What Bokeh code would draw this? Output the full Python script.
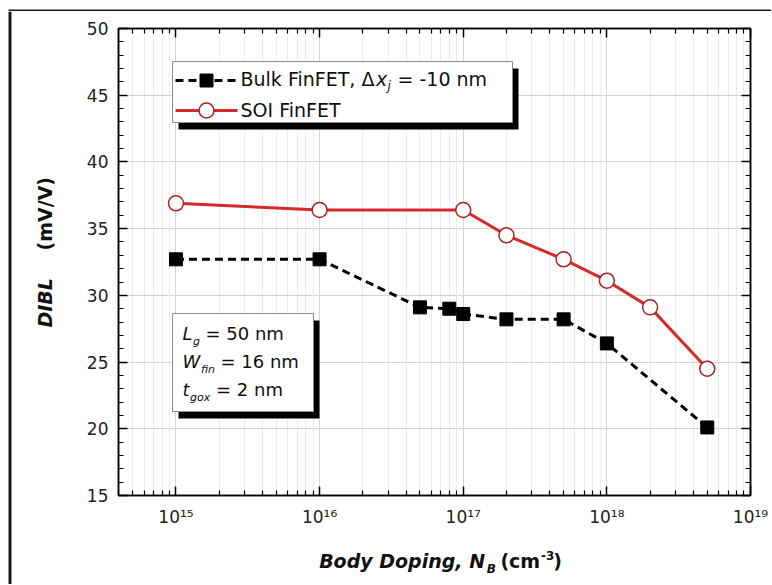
import json
import math
from bokeh.plotting import figure
from bokeh.layouts import column, row
from bokeh.models import (Range1d, FixedTicker, LinearAxis, LogAxis, Label,
                          SingleIntervalTicker, CustomJSTickFormatter)
from bokeh.embed import file_html
from bokeh.resources import INLINE

# ---------------- data ----------------
doping_bulk = [1e15, 1e16, 5e16, 8e16, 1e17, 2e17, 5e17, 1e18, 5e18]
dibl_bulk = [32.7, 32.7, 29.1, 29.0, 28.6, 28.2, 28.2, 26.4, 20.1]

doping_soi = [1e15, 1e16, 1e17, 2e17, 5e17, 1e18, 2e18, 5e18]
dibl_soi = [36.9, 36.4, 36.4, 34.5, 32.7, 31.1, 29.1, 24.5]

x_tick_exponents = [15, 16, 17, 18, 19]
x_tick_labels = ["10\u00b9\u2075", "10\u00b9\u2076", "10\u00b9\u2077", "10\u00b9\u2078", "10\u00b9\u2079"]
x_minor_mantissas = [2, 3, 4, 5, 6, 7, 8, 9]
y_tick_interval = 5

legend_names = ["Bulk FinFET, \u0394", "SOI FinFET"]

# ---------------- layout (page pixels) ----------------
FL, FT, FR, FB = 118, 28, 750, 495  # plot frame edges on the page
XLOG0, XLOG1 = 14.6, 19.0
Y0, Y1 = 15, 50
FONT = "DejaVu Sans"
DARK = "#1a1a1a"
SHIFT = 0.38  # em correction for label baseline placement

PAGE_W, PAGE_H = 771, 584
M_LEFT, M_TOP = 71, 11
M_W, M_H = 700, 519


def X(px):
    return 10 ** (XLOG0 + (px - FL) * (XLOG1 - XLOG0) / (FR - FL))


def Y(py):
    return Y1 - (py - FT) * (Y1 - Y0) / (FB - FT)


def put(fig, fx, fy, px, py, s, size, style="normal", angle=0.0,
        color="#111111", align="left"):
    if angle == 0:
        py -= SHIFT * size
    else:
        px -= SHIFT * size
    fig.add_layout(Label(x=fx(px), y=fy(py), text=s, text_font=FONT,
                         text_font_size=f"{size}px", text_font_style=style,
                         text_color=color, text_align=align,
                         text_baseline="alphabetic", angle=angle))


def blank_fig(w, h, x0, x1, y0, y1, bg="white"):
    f = figure(width=w, height=h, x_range=Range1d(x0, x1), y_range=Range1d(y0, y1),
               output_backend="svg", toolbar_location=None,
               x_axis_location=None, y_axis_location=None,
               min_border=0, min_border_left=0, min_border_right=0,
               min_border_top=0, min_border_bottom=0,
               background_fill_color=bg, border_fill_color=bg,
               outline_line_color=None)
    f.grid.visible = False
    return f


# ---------------- main plot ----------------
p = figure(width=M_W, height=M_H, x_axis_type="log",
           x_range=Range1d(10 ** XLOG0, 10 ** XLOG1), y_range=Range1d(Y0, Y1),
           output_backend="svg", toolbar_location=None,
           min_border_left=FL - M_LEFT, min_border_right=M_LEFT + M_W - FR,
           min_border_top=FT - M_TOP, min_border_bottom=M_TOP + M_H - FB,
           background_fill_color="white", border_fill_color="white",
           outline_line_color="black", outline_line_width=1.5)

xticker = FixedTicker(
    ticks=[10.0 ** e for e in x_tick_exponents],
    minor_ticks=[m * 10.0 ** e for e in range(14, 19) for m in x_minor_mantissas
                 if 10 ** XLOG0 < m * 10.0 ** e < 10 ** XLOG1])
yticker = SingleIntervalTicker(interval=y_tick_interval, num_minor_ticks=5)
blank = CustomJSTickFormatter(code="return ''")
label_map = json.dumps({str(e): s for e, s in zip(x_tick_exponents, x_tick_labels)})
xfmt = CustomJSTickFormatter(
    code=f"const m = {label_map}; const e = Math.round(Math.log10(tick)); "
         "const s = m[String(e)]; return s === undefined ? '' : s;")


def style_axis(ax):
    ax.axis_line_color = "black"
    ax.axis_line_width = 1.5
    ax.major_tick_in = 9
    ax.major_tick_out = 0
    ax.minor_tick_in = 5
    ax.minor_tick_out = 0
    ax.major_tick_line_color = "black"
    ax.major_tick_line_width = 1.5
    ax.minor_tick_line_color = "black"
    ax.minor_tick_line_width = 1.2


xb = p.xaxis[0]
xb.ticker = xticker
xb.formatter = xfmt
style_axis(xb)
xb.major_label_text_font = FONT
xb.major_label_text_font_size = "17px"
xb.major_label_text_color = "#222222"
xb.major_label_standoff = 11

yl = p.yaxis[0]
yl.ticker = yticker
style_axis(yl)
yl.major_label_text_font = FONT
yl.major_label_text_font_size = "17px"
yl.major_label_text_color = "#222222"
yl.major_label_standoff = 10

xt = LogAxis(ticker=xticker, formatter=blank)
style_axis(xt)
p.add_layout(xt, "above")
yr = LinearAxis(ticker=yticker, formatter=blank)
style_axis(yr)
p.add_layout(yr, "right")

p.xgrid.ticker = xticker
p.ygrid.ticker = yticker
p.xgrid.grid_line_color = "#d4d4d4"
p.xgrid.minor_grid_line_color = "#ebebeb"
p.ygrid.grid_line_color = "#d4d4d4"

# series
p.line(doping_bulk, dibl_bulk, line_color="black", line_width=3, line_dash="8 5")
p.scatter(doping_bulk, dibl_bulk, marker="square", size=13,
          fill_color="black", line_color="black")
p.line(doping_soi, dibl_soi, line_color="#d42a2a", line_width=3)
p.scatter(doping_soi, dibl_soi, marker="circle", size=15,
          fill_color="white", line_color="#a82020", line_width=1.5)


def shadow_box(l, t, r, b):
    p.quad(left=[X(l + 6)], right=[X(r + 6)], top=[Y(t + 7)], bottom=[Y(b + 7)],
           fill_color="black", line_color=None)
    p.quad(left=[X(l)], right=[X(r)], top=[Y(t)], bottom=[Y(b)],
           fill_color="white", line_color="#8c8c8c", line_width=1)


def txt(px, py, s, size, style="normal"):
    put(p, X, Y, px, py, s, size, style)


# legend
shadow_box(172, 61, 512, 122)
p.line([X(175), X(237)], [Y(80), Y(80)], line_color="black", line_width=3, line_dash="8 5")
p.scatter([X(206)], [Y(80)], marker="square", size=13, fill_color="black", line_color="black")
p.line([X(175), X(237)], [Y(110), Y(110)], line_color="#d42a2a", line_width=3)
p.scatter([X(206)], [Y(110)], marker="circle", size=15, fill_color="white",
          line_color="#a82020", line_width=1.5)

txt(240, 86, legend_names[0], 19)
txt(375.5, 86, "x", 19, "italic")
txt(387, 90, "j", 12, "italic")
txt(397, 86, "= -10 nm", 19)
txt(240, 117, legend_names[1], 19)

# parameter box
shadow_box(172, 313, 313, 411)
txt(182, 340, "L", 18, "italic")
txt(192.5, 345, "g", 11, "italic")
txt(205, 340, "= 50 nm", 18)
txt(182, 368, "W", 18, "italic")
txt(200.5, 373, "fin", 11, "italic")
txt(220, 368, "= 16 nm", 18)
txt(182, 396, "t", 18, "italic")
txt(189.5, 401, "gox", 11, "italic")
txt(215.5, 396, "= 2 nm", 18)

# ---------------- frame pieces around the plot ----------------
PX = lambda v: v
NY = lambda v: -v

# top: page margin + top border line
top_strip = blank_fig(PAGE_W, M_TOP, 0, PAGE_W, -M_TOP, 0)
top_strip.quad(left=[8], right=[PAGE_W], top=[-8], bottom=[-M_TOP],
               fill_color=DARK, line_color=None)

# left column: page margin + left border + y-axis title
ylab = blank_fig(M_LEFT, PAGE_H - M_TOP, 0, M_LEFT, -PAGE_H, -M_TOP)
ylab.quad(left=[8], right=[11], bottom=[-PAGE_H], top=[-M_TOP],
          fill_color=DARK, line_color=None)
put(ylab, PX, NY, 52, 327, "DIBL", 19, "bold italic", angle=math.pi / 2)
put(ylab, PX, NY, 52, 250, "(mV/V)", 19, "bold", angle=math.pi / 2)

# bottom: x-axis title
xl_top = M_TOP + M_H
xlab = blank_fig(M_W, PAGE_H - xl_top, M_LEFT, M_LEFT + M_W, -PAGE_H, -xl_top)
put(xlab, PX, NY, 477, 568, "Body Doping, N", 19, "bold italic", align="right")
put(xlab, PX, NY, 479, 573, "B", 12, "bold italic")
put(xlab, PX, NY, 538, 568, "(cm", 19, "bold", align="right")
put(xlab, PX, NY, 539, 560, "-3", 12, "bold")
put(xlab, PX, NY, 552.5, 568, ")", 19, "bold")

layout = column(top_strip,
                row(ylab, column(p, xlab, spacing=0), spacing=0),
                spacing=0)

open("out.html", "w").write(file_html(layout, INLINE))
